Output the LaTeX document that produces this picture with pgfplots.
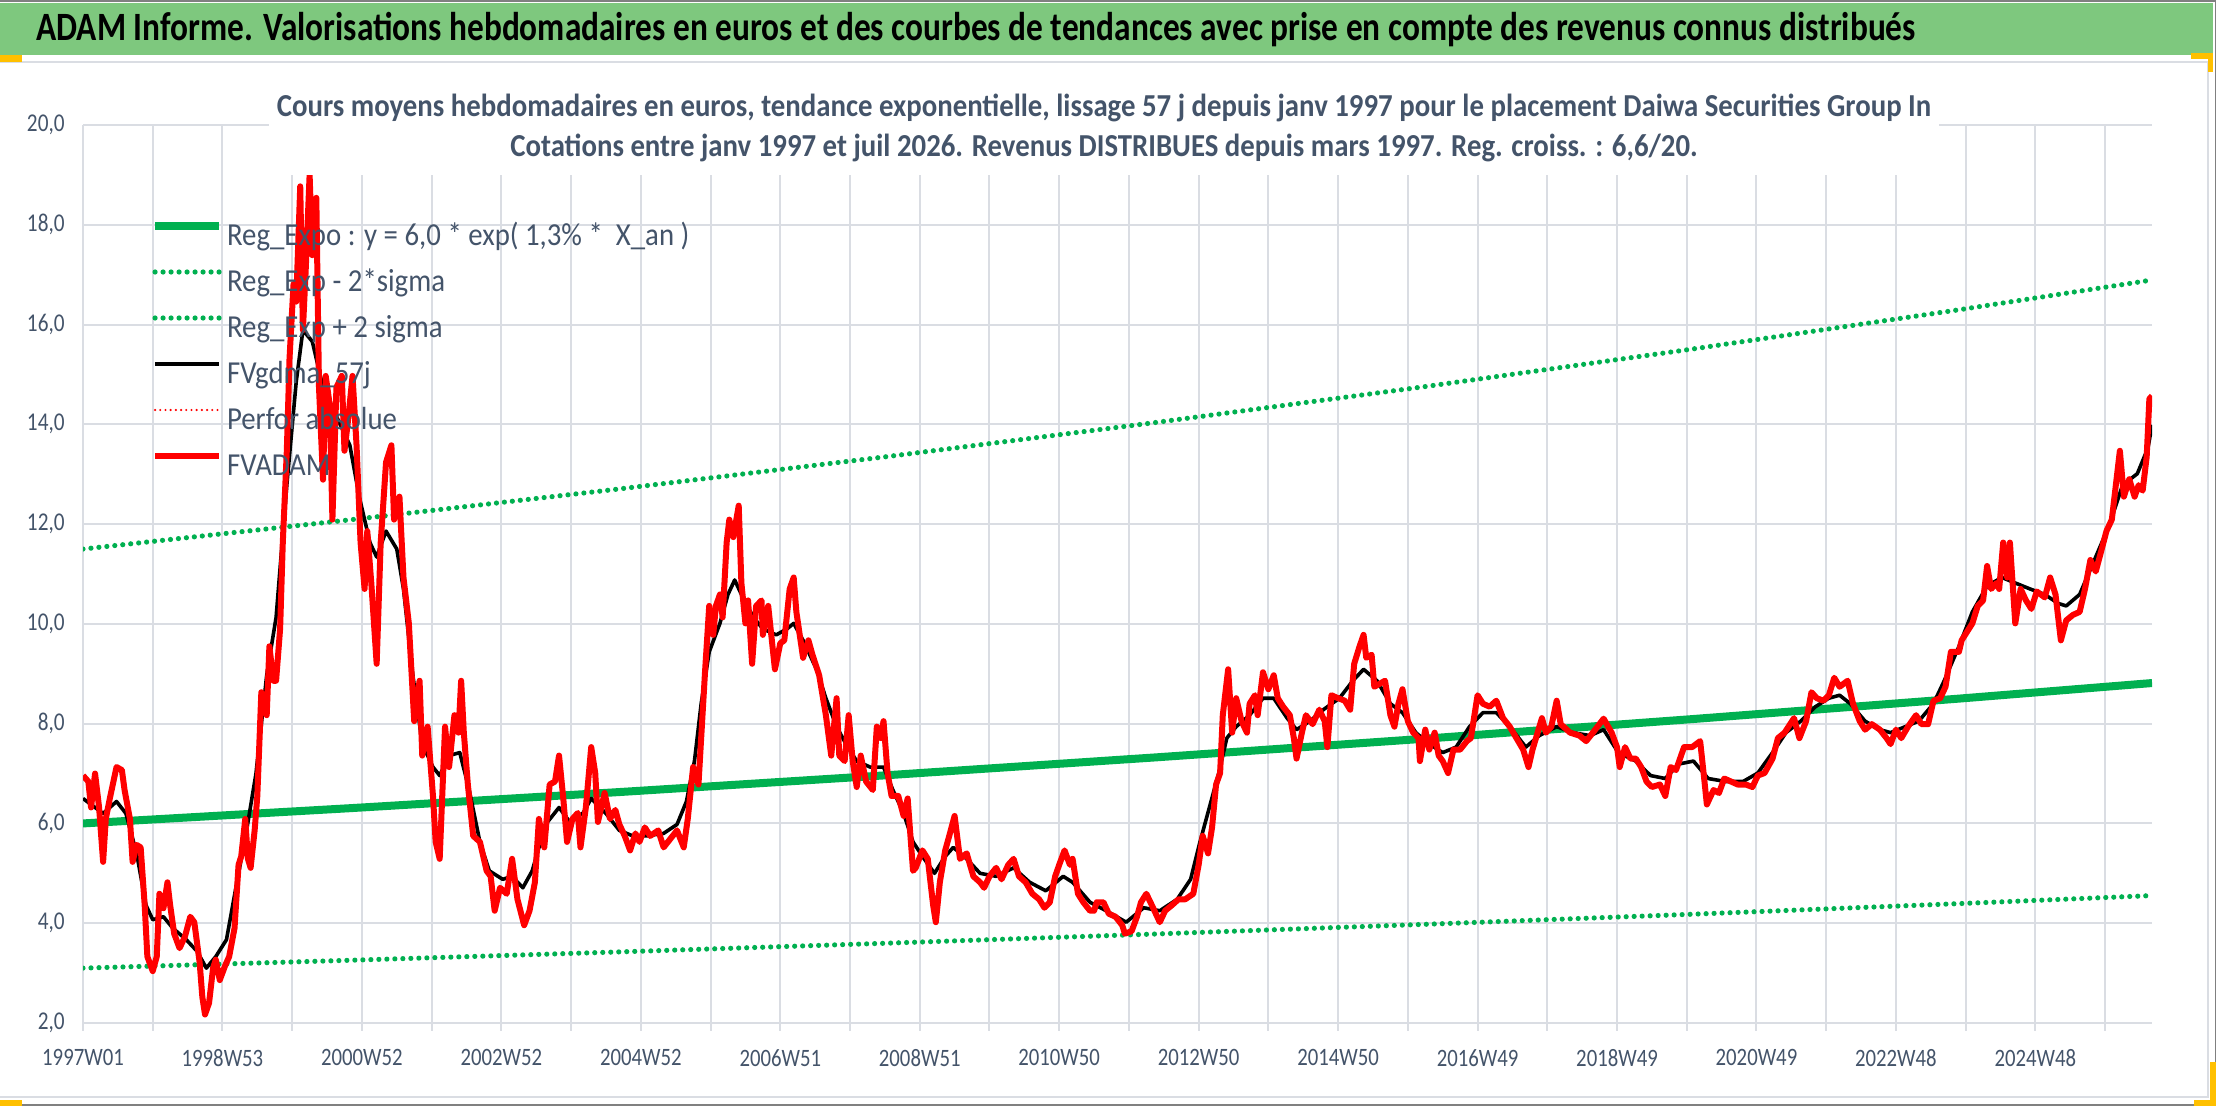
\documentclass[border=0pt]{standalone}
\usepackage{pgfplots}
\pgfplotsset{compat=1.18}
\usepackage{fontspec}
\setmainfont{Carlito}[FakeStretch=0.83]
\newfontfamily\subfont{Carlito}[FakeStretch=0.9]
\definecolor{bannergreen}{RGB}{126,200,126}
\definecolor{titlegray}{RGB}{68,84,106}
\definecolor{gridc}{RGB}{218,221,227}
\definecolor{regg}{RGB}{0,176,80}
\definecolor{hyel}{RGB}{255,192,0}
\definecolor{frameg}{RGB}{128,128,128}
\begin{document}
\begin{tikzpicture}[x=1pt,y=1pt]
\fill[white] (0,0) rectangle (1108,553);

\begin{axis}[
  at={(41.5pt,41.5pt)}, anchor=south west,
  scale only axis, width=1034.5pt, height=449pt,
  xmin=0, xmax=1543, ymin=2, ymax=20,
  xtick={0,104,...,1456},
  xticklabels={1997W01,1998W53,2000W52,2002W52,2004W52,2006W51,2008W51,2010W50,2012W50,2014W50,2016W49,2018W49,2020W49,2022W48,2024W48},
  minor xtick={52,156,...,1508},
  ytick={2,4,...,20},
  xmajorgrids, xminorgrids, ymajorgrids,
  major grid style={gridc, line width=1pt},
  minor grid style={gridc, line width=1pt},
  axis x line*=bottom, axis y line*=left,
  x axis line style={gridc, line width=1pt, -},
  y axis line style={draw=none},
  tick align=outside,
  major tick length=4pt, minor tick length=4pt,
  xtick style={gridc, line width=1pt},
  every minor tick/.append style={gridc, line width=1pt},
  ytick style={draw=none},
  xticklabel style={font=\fontsize{12.5}{15}\selectfont, color=titlegray, inner sep=0pt, yshift=-9pt},
  yticklabel style={font=\fontsize{12.8}{15}\selectfont, color=titlegray, inner sep=0pt, xshift=-5pt},
  /pgf/number format/.cd, fixed, fixed zerofill, precision=1, use comma, assume math mode=true,
  /pgfplots/.cd,
  legend style={
    at={(axis description cs:0.0329,0.902)}, anchor=north west,
    draw=none, fill=none, inner sep=0pt, outer sep=0pt,
    font=\subfont\fontsize{16}{18}\selectfont, text=titlegray,
    row sep=0pt,
    nodes={inner sep=0pt, text height=16.5pt, text depth=6.5pt},
    /tikz/every odd column/.append style={column sep=2pt},
  },
  legend cell align=left,
  legend image code/.code={\draw[#1] (0pt,5pt) -- (32pt,5pt);},
]
\addplot[regg, line width=4pt] coordinates {(0,6.0) (200,6.307) (400,6.629) (600,6.967) (800,7.324) (1000,7.697) (1200,8.091) (1400,8.504) (1543,8.814)};
\addlegendentry{Reg\_Expo : y = 6,0 * exp( 1,3\% *\ \ X\_an )}
\addplot[regg, line width=2.6pt, line cap=round, dash pattern=on 0pt off 4pt] coordinates {(0,3.1) (200,3.258) (400,3.425) (600,3.600) (800,3.784) (1000,3.977) (1200,4.180) (1400,4.394) (1543,4.554)};
\addlegendentry{Reg\_Exp - 2*sigma}
\addplot[regg, line width=2.6pt, line cap=round, dash pattern=on 0pt off 4pt] coordinates {(0,11.5) (200,12.088) (400,12.705) (600,13.354) (800,14.037) (1000,14.753) (1200,15.508) (1400,16.300) (1543,16.893)};
\addlegendentry{Reg\_Exp + 2 sigma}
\addplot[black, line width=1.8pt, line join=round] coordinates {
(0,6.5) (15,6.2) (25,6.44) (32,6.2) (40,5.4) (47,4.36) (52,4.07) (60,4.13) (67,3.9) (77,3.67) (85,3.44) (92,3.1) (99,3.33) (107,3.67) (114,4.71) (122,5.86) (129,7.0) (137,8.97) (144,10.13) (152,12.78) (159,14.85) (164,15.89) (171,15.66) (179,14.74) (189,14.16) (199,13.58) (206,12.55) (214,11.63) (219,11.34) (226,11.86) (234,11.5) (239,10.7) (246,8.97) (253,7.59) (261,7.13) (266,6.96) (273,7.36) (281,7.42) (288,6.67) (296,5.63) (303,5.05) (313,4.88) (320,4.94) (328,4.71) (335,5.05) (345,5.98) (355,6.32) (363,6.03) (373,6.21) (379,6.5) (390,6.2) (400,5.86) (410,5.75) (420,5.75) (433,5.8) (443,5.98) (450,6.44) (456,7.25) (461,8.4) (467,9.44) (475,10.01) (481,10.59) (486,10.88) (491,10.59) (500,10.13) (507,9.9) (517,9.78) (525,9.9) (530,10.01) (537,9.67) (547,9.09) (554,8.51) (562,7.94) (569,7.59) (577,7.25) (587,7.13) (597,7.13) (604,6.67) (612,6.2) (619,5.63) (626,5.34) (635,5.0) (643,5.34) (649,5.52) (659,5.29) (669,5.0) (681,4.94) (694,5.11) (706,4.82) (718,4.65) (731,4.94) (738,4.82) (751,4.42) (763,4.25) (778,4.02) (791,4.31) (803,4.25) (816,4.48) (826,4.88) (833,5.63) (840,6.32) (847,7.01) (853,7.71) (860,7.94) (870,8.17) (880,8.51) (888,8.51) (898,8.11) (905,7.88) (915,8.05) (925,8.28) (937,8.51) (947,8.86) (955,9.09) (965,8.86) (975,8.4) (984,8.22) (994,7.82) (1004,7.59) (1014,7.42) (1024,7.53) (1034,7.94) (1044,8.22) (1054,8.22) (1064,7.94) (1076,7.53) (1086,7.76) (1099,7.94) (1111,7.82) (1124,7.76) (1134,7.88) (1145,7.42) (1158,7.25) (1169,6.96) (1180,6.9) (1190,7.19) (1201,7.25) (1212,6.9) (1225,6.84) (1238,6.84) (1249,7.01) (1260,7.42) (1270,7.82) (1281,8.05) (1292,8.34) (1302,8.51) (1310,8.57) (1318,8.4) (1329,8.05) (1340,7.88) (1348,7.82) (1359,7.94) (1369,8.05) (1380,8.4) (1388,8.86) (1399,9.55) (1409,10.24) (1420,10.76) (1431,10.93) (1441,10.82) (1452,10.7) (1463,10.59) (1473,10.41) (1479,10.36) (1489,10.59) (1500,11.28) (1511,11.97) (1521,12.78) (1532,13.01) (1540,13.53) (1543,13.99)};
\addlegendentry{FVgdma\_57j}
\addlegendimage{red, line width=1.2pt, line cap=round, dash pattern=on 0pt off 2.6pt}
\addlegendentry{Perfor absolue}
\addplot[red, line width=3pt, line join=round] coordinates {
(0,6.96) (4,6.84) (6,6.32) (9,7.0) (12,6.32) (15,5.23) (17,6.09) (20,6.5) (25,7.13) (29,7.07) (31,6.67) (35,6.09) (37,5.23) (40,5.57) (43,5.52) (46,4.36) (48,3.33) (52,3.04) (55,3.33) (57,4.59) (60,4.3) (63,4.82) (65,4.36) (68,3.79) (72,3.5) (76,3.73) (80,4.13) (83,4.02) (87,3.21) (89,2.52) (91,2.17) (94,2.4) (97,3.1) (99,3.27) (102,2.86) (106,3.15) (109,3.33) (113,3.9) (116,5.17) (118,5.34) (121,6.09) (123,5.29) (125,5.11) (128,5.86) (130,6.55) (133,8.63) (137,8.17) (139,9.55) (142,8.86) (144,8.86) (147,9.9) (149,11.63) (152,13.47) (154,15.31) (157,16.81) (159,16.46) (162,18.77) (164,15.89) (166,17.04) (169,19.0) (171,17.39) (174,18.54) (176,14.74) (179,12.89) (181,14.97) (184,14.39) (186,12.09) (189,14.74) (193,14.97) (195,13.47) (198,14.16) (201,14.97) (204,13.58) (207,11.63) (210,10.7) (212,11.86) (215,10.82) (219,9.2) (222,11.63) (226,13.24) (230,13.58) (232,12.09) (236,12.55) (239,10.93) (243,10.01) (247,8.05) (251,8.86) (253,7.36) (257,7.94) (261,6.55) (263,5.63) (266,5.29) (270,7.94) (273,7.13) (277,8.17) (280,7.82) (282,8.86) (284,7.82) (287,6.78) (291,5.75) (296,5.63) (301,5.05) (304,4.94) (307,4.25) (311,4.71) (316,4.59) (320,5.29) (324,4.48) (329,3.96) (333,4.25) (337,4.82) (340,6.09) (344,5.52) (348,6.78) (352,6.84) (355,7.36) (358,6.55) (361,5.63) (365,6.09) (369,6.21) (371,5.52) (375,6.32) (379,7.53) (382,7.01) (384,6.03) (389,6.61) (393,6.09) (397,6.27) (400,5.98) (404,5.75) (408,5.46) (412,5.8) (415,5.63) (419,5.92) (423,5.75) (429,5.86) (433,5.52) (438,5.69) (443,5.86) (448,5.52) (451,6.09) (455,7.13) (459,6.78) (461,7.71) (464,9.09) (467,10.36) (470,9.78) (472,10.36) (475,10.59) (477,10.13) (480,11.63) (482,12.09) (485,11.74) (489,12.37) (491,10.82) (494,10.01) (496,10.47) (499,9.2) (502,10.36) (506,10.47) (507,9.78) (511,10.36) (516,9.09) (520,9.61) (523,9.67) (527,10.7) (530,10.93) (532,10.24) (537,9.32) (541,9.67) (544,9.38) (549,8.97) (554,8.17) (558,7.36) (562,8.51) (564,7.36) (568,7.25) (571,8.17) (574,7.25) (577,6.73) (580,7.36) (584,6.84) (589,6.67) (592,7.94) (595,7.71) (597,8.05) (600,7.01) (603,6.55) (608,6.55) (612,6.15) (615,6.5) (619,5.05) (621,5.11) (626,5.46) (630,5.29) (634,4.36) (636,4.02) (639,4.82) (643,5.46) (646,5.75) (650,6.15) (654,5.29) (659,5.4) (664,4.94) (669,4.82) (672,4.71) (676,4.94) (681,5.11) (685,4.88) (690,5.17) (694,5.29) (698,4.94) (703,4.82) (708,4.59) (713,4.48) (717,4.31) (721,4.42) (725,4.94) (728,5.17) (732,5.46) (736,5.17) (738,5.29) (742,4.59) (746,4.42) (751,4.25) (754,4.25) (756,4.42) (761,4.42) (765,4.19) (770,4.13) (775,3.96) (777,3.79) (782,3.84) (786,4.13) (789,4.42) (793,4.59) (798,4.31) (803,4.02) (807,4.25) (812,4.36) (817,4.48) (822,4.48) (828,4.59) (832,5.17) (835,5.75) (839,5.4) (842,5.92) (845,6.78) (848,7.01) (850,8.17) (854,9.09) (857,7.82) (860,8.51) (864,8.05) (868,7.82) (870,8.4) (874,8.57) (876,8.17) (880,9.03) (884,8.69) (888,8.97) (891,8.51) (895,8.34) (900,8.17) (903,7.71) (905,7.3) (909,7.82) (912,8.17) (917,7.99) (922,8.28) (926,8.05) (928,7.53) (931,8.57) (936,8.51) (941,8.46) (945,8.28) (948,9.2) (952,9.55) (955,9.78) (957,9.32) (961,9.38) (963,8.74) (967,8.8) (971,8.86) (975,8.17) (978,7.94) (981,8.4) (984,8.69) (988,8.05) (992,7.82) (996,7.71) (997,7.25) (1001,7.88) (1004,7.48) (1008,7.82) (1011,7.36) (1014,7.25) (1018,7.01) (1022,7.48) (1027,7.48) (1032,7.65) (1035,7.71) (1040,8.57) (1044,8.4) (1049,8.34) (1054,8.46) (1059,8.11) (1064,7.94) (1069,7.71) (1074,7.48) (1078,7.13) (1081,7.48) (1088,8.11) (1091,7.82) (1095,7.94) (1099,8.46) (1102,7.99) (1109,7.82) (1116,7.76) (1121,7.65) (1126,7.82) (1134,8.1) (1140,7.82) (1144,7.53) (1146,7.13) (1150,7.53) (1154,7.3) (1158,7.3) (1162,7.13) (1166,6.84) (1170,6.73) (1176,6.78) (1180,6.55) (1184,7.13) (1188,7.07) (1194,7.53) (1200,7.53) (1206,7.65) (1209,6.9) (1211,6.38) (1216,6.67) (1220,6.61) (1224,6.9) (1229,6.84) (1234,6.78) (1240,6.78) (1245,6.73) (1249,6.96) (1254,7.01) (1260,7.3) (1264,7.71) (1269,7.82) (1276,8.11) (1280,7.71) (1285,8.05) (1289,8.63) (1293,8.51) (1298,8.46) (1302,8.57) (1306,8.92) (1310,8.74) (1316,8.86) (1320,8.4) (1325,8.05) (1329,7.88) (1334,7.99) (1340,7.88) (1345,7.71) (1348,7.59) (1352,7.88) (1356,7.71) (1361,7.94) (1367,8.17) (1371,7.99) (1376,7.99) (1380,8.46) (1385,8.51) (1389,8.74) (1393,9.44) (1399,9.44) (1401,9.67) (1405,9.84) (1409,10.01) (1413,10.36) (1417,10.47) (1420,11.16) (1423,10.7) (1427,10.82) (1429,10.7) (1432,11.63) (1435,10.93) (1437,11.63) (1441,10.01) (1445,10.7) (1449,10.47) (1453,10.3) (1457,10.65) (1463,10.53) (1467,10.93) (1471,10.59) (1475,9.67) (1479,10.07) (1484,10.18) (1489,10.24) (1493,10.7) (1497,11.28) (1501,11.05) (1505,11.45) (1509,11.86) (1513,12.09) (1516,12.78) (1519,13.47) (1522,12.55) (1526,12.9) (1530,12.55) (1533,12.78) (1536,12.67) (1539,13.35) (1541,14.51) (1543,14.57)};
\addlegendentry{FVADAM}
\end{axis}

\fill[bannergreen] (0,525.5) rectangle (1106.5,551.5);
\draw[frameg, line width=1pt] (0,552.5) -- (1108,552.5);
\draw[frameg, line width=0.6pt] (1107.7,553) -- (1107.7,0);
\draw[frameg, line width=1pt] (0,0.5) -- (1108,0.5);
\draw[gridc, line width=1pt] (0,522) -- (1104,522) -- (1104,4.5) -- (0,4.5);
\fill[hyel] (0,522) rectangle (11,525.5);
\fill[hyel] (1095.5,523.5) rectangle (1106.5,526.5);
\fill[hyel] (1104,517) rectangle (1106.5,526.5);
\fill[hyel] (0,0) rectangle (11,3);
\fill[hyel] (1097,0) rectangle (1108,3);
\fill[hyel] (1105,0) rectangle (1108,22);
\node[anchor=base west, inner sep=0pt, font=\fontsize{20.1}{22}\selectfont\bfseries] at (18,532.5) {ADAM Informe. Valorisations hebdomadaires en euros et des courbes de tendances avec prise en compte des revenus connus distribués};

\fill[white] (134.5,465.5) rectangle (969.5,521);
\node[anchor=base, inner sep=0pt, font=\subfont\fontsize{16}{18}\selectfont\bfseries, text=titlegray] at (552,494.5) {Cours moyens hebdomadaires en euros, tendance exponentielle, lissage 57 j depuis janv 1997 pour le placement Daiwa Securities Group In};
\node[anchor=base, inner sep=0pt, font=\subfont\fontsize{16}{18}\selectfont\bfseries, text=titlegray] at (552,474.5) {Cotations entre janv 1997 et juil 2026. Revenus DISTRIBUES depuis mars 1997. Reg. croiss. : 6,6/20.};
\pgfresetboundingbox
\path[use as bounding box] (0,0) rectangle (1108,553);
\end{tikzpicture}
\end{document}
